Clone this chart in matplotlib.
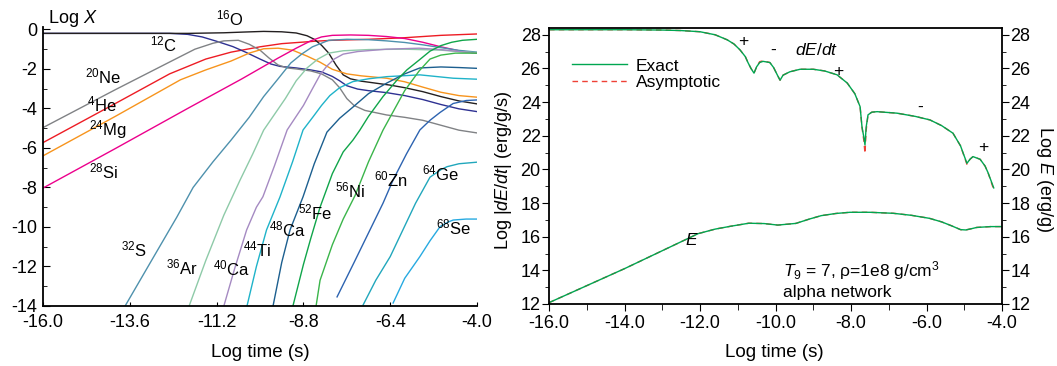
import matplotlib
matplotlib.use('Agg')
from matplotlib import pyplot as plt
from matplotlib.ticker import MultipleLocator, FixedLocator, FormatStrFormatter

plt.rcParams['font.family'] = ['Liberation Sans', 'DejaVu Sans']
plt.rcParams['mathtext.fontset'] = 'custom'
plt.rcParams['mathtext.rm'] = 'Liberation Sans'
plt.rcParams['mathtext.it'] = 'Liberation Sans:italic'
plt.rcParams['axes.unicode_minus'] = False

# ---- left panel: log mass fractions vs log time ----
left_xticks = [-16.0, -13.6, -11.2, -8.8, -6.4, -4.0]

he4_t = [-16, -14, -12.5, -11.5, -10.8, -10, -9.4, -8.5, -8, -7, -6, -5, -4]
he4_x = [-5.73, -3.75, -2.25, -1.5, -1.15, -0.88, -0.72, -0.6, -0.55, -0.5, -0.42, -0.3, -0.23]

c12_t = [-16, -12.5, -12, -11.6, -11.2, -10.75, -10.4, -10.0, -9.7, -9.45, -9.0, -8.6, -8.3, -8.0,
         -7.8, -7.6, -7.3, -7.0, -6.5, -6.0, -5.5, -5.0, -4.5, -4.0]
c12_x = [-0.2, -0.2, -0.25, -0.38, -0.6, -0.87, -1.15, -1.5, -1.75, -1.87, -1.95, -2.05, -2.15, -2.38,
         -2.6, -2.85, -3.02, -3.1, -3.2, -3.35, -3.55, -3.8, -4.02, -4.16]

o16_t = [-16, -12, -11, -10.4, -9.9, -9.4, -9.0, -8.7, -8.5, -8.3, -8.1, -7.9, -7.7, -7.5, -7.2,
         -6.8, -6.4, -6.0, -5.5, -5.0, -4.5, -4.0]
o16_x = [-0.2, -0.2, -0.17, -0.13, -0.1, -0.12, -0.18, -0.32, -0.5, -0.8, -1.2, -1.8, -2.3, -2.5, -2.62,
         -2.72, -2.82, -2.95, -3.15, -3.4, -3.62, -3.77]

ne20_t = [-16, -14, -12.5, -11.8, -11.3, -11.0, -10.6, -10.3, -10.0, -9.75, -9.5, -9.25, -9.0, -8.6,
          -8.3, -8.0, -7.8, -7.6, -7.4, -7.1, -6.5, -6.0, -5.5, -5.0, -4.5, -4.0]
ne20_x = [-4.97, -3.05, -1.65, -1.0, -0.7, -0.58, -0.55, -0.75, -1.05, -1.45, -1.8, -1.95, -2.0, -2.1,
          -2.25, -2.55, -2.95, -3.5, -3.85, -4.1, -4.33, -4.45, -4.6, -4.85, -5.1, -5.24]

mg24_t = [-16, -14, -12.2, -11.5, -10.8, -10.3, -9.9, -9.5, -9.1, -8.7, -8.35, -8.0, -7.6, -7.2,
          -6.5, -6.0, -5.5, -5.0, -4.5, -4.0]
mg24_x = [-6.4, -4.4, -2.55, -2.05, -1.6, -1.2, -0.98, -0.95, -1.05, -1.35, -1.65, -2.02, -2.25, -2.35,
          -2.47, -2.65, -2.92, -3.18, -3.35, -3.43]

si28_t = [-16, -14, -12, -10.5, -9.5, -9.0, -8.6, -8.3, -8.0, -7.5, -7.0, -6.5, -6.0, -5.5, -5.0, -4.5, -4.0]
si28_x = [-8.03, -6.03, -4.0, -2.5, -1.45, -0.95, -0.58, -0.38, -0.3, -0.28, -0.3, -0.36, -0.46, -0.65,
          -0.88, -1.08, -1.21]

s32_t = [-13.73, -13.0, -12.3, -11.85, -11.3, -10.8, -10.3, -9.9, -9.5, -9.15, -8.85, -8.55, -8.1,
         -7.6, -7.0, -6.5, -6.0, -5.5, -5.0, -4.5, -4.0]
s32_x = [-14, -11.7, -9.5, -8.0, -6.7, -5.6, -4.45, -3.4, -2.5, -1.7, -1.25, -0.88, -0.55,
         -0.5, -0.52, -0.58, -0.66, -0.78, -0.92, -1.06, -1.15]

ar36_t = [-11.96, -11.5, -11.0, -10.55, -10.2, -9.9, -9.6, -9.3, -9.0, -8.7, -8.4, -8.1, -7.7, -7.0,
          -6.0, -5.0, -4.5, -4.0]
ar36_x = [-14, -11.7, -9.4, -7.62, -6.3, -5.1, -4.3, -3.5, -2.6, -1.95, -1.5, -1.2, -1.08, -1.02,
          -1.0, -1.05, -1.12, -1.18]

ca40_t = [-11.0, -10.7, -10.37, -10.1, -9.92, -9.6, -9.25, -9.0, -8.8, -8.55, -8.34, -8.15, -7.95,
          -7.7, -7.3, -6.5, -5.6, -5.0, -4.5, -4.0]
ca40_x = [-14, -12.1, -10.15, -9.0, -8.47, -6.9, -5.09, -4.4, -3.85, -3.0, -2.3, -1.85, -1.5,
          -1.25, -1.12, -1.0, -0.95, -1.02, -1.12, -1.2]

ti44_t = [-10.36, -10.1, -9.82, -9.45, -9.1, -8.81, -8.54, -8.3, -8.07, -7.8, -7.43, -7.0, -6.49,
          -5.58, -4.66, -4.0]
ti44_x = [-14, -12.0, -10.15, -8.49, -6.7, -5.09, -4.44, -3.85, -3.35, -2.95, -2.64, -2.5, -2.39,
          -2.3, -2.47, -2.52]

cr48_t = [-9.64, -9.4, -9.17, -8.81, -8.5, -8.15, -7.8, -7.43, -7.0, -6.49, -6.0, -5.58, -5.0, -4.5, -4.0]
cr48_x = [-14, -11.8, -10.15, -8.47, -6.8, -5.2, -4.5, -3.93, -3.25, -2.71, -2.25, -1.95, -1.9, -1.93, -1.97]

fe52_t = [-9.09, -8.8, -8.6, -8.34, -8.0, -7.7, -7.43, -7.24, -7.0, -6.6, -6.21, -5.94, -5.6, -5.3,
          -5.0, -4.7, -4.4, -4.0]
fe52_x = [-14, -11.9, -10.6, -9.0, -7.3, -6.2, -5.6, -5.1, -4.4, -3.4, -2.56, -2.05, -1.55, -1.1,
          -0.82, -0.65, -0.55, -0.5]

ni56_t = [-8.45, -8.34, -8.0, -7.7, -7.37, -7.0, -6.6, -6.3, -6.0, -5.6, -5.3, -5.0, -4.6, -4.0]
ni56_x = [-14, -12.7, -10.9, -9.6, -8.4, -6.7, -5.1, -4.1, -3.1, -2.1, -1.5, -1.3, -1.2, -1.2]

zn60_t = [-7.87, -7.4, -6.96, -6.6, -6.32, -5.95, -5.58, -5.3, -5.02, -4.66, -4.3, -4.0]
zn60_x = [-13.54, -11.8, -10.15, -8.8, -7.62, -6.3, -5.09, -4.6, -4.2, -3.75, -3.6, -3.57]

ge64_t = [-7.15, -6.8, -6.4, -6.05, -5.7, -5.3, -5.0, -4.83, -4.5, -4.0]
ge64_x = [-13.95, -12.7, -11.5, -10.15, -8.8, -7.48, -7.1, -6.95, -6.8, -6.72]

se68_t = [-6.32, -6.0, -5.58, -5.3, -5.02, -4.8, -4.66, -4.3, -4.0]
se68_x = [-13.85, -12.6, -11.5, -10.7, -9.98, -9.75, -9.65, -9.6, -9.6]

# label text, position (log t, log X)
iso_labels = ['$^{16}$O', '$^{12}$C', '$^{20}$Ne', '$^{4}$He', '$^{24}$Mg', '$^{28}$Si', '$^{32}$S',
              '$^{36}$Ar', '$^{40}$Ca', '$^{44}$Ti', '$^{48}$Ca', '$^{52}$Fe', '$^{56}$Ni',
              '$^{60}$Zn', '$^{64}$Ge', '$^{68}$Se']
iso_label_t = [-10.83, -12.68, -14.34, -14.37, -14.2, -14.31, -13.48, -12.16, -10.8, -10.08,
               -9.25, -8.48, -7.51, -6.38, -5.02, -4.64]
iso_label_x = [0.58, -0.78, -2.4, -3.82, -5.09, -7.2, -11.16, -12.03, -12.08, -11.16,
               -10.15, -9.29, -8.13, -7.62, -7.27, -10.0]

# ---- right panel: energy release ----
dedt_t = [-16, -14, -13, -12.5, -12.0, -11.6, -11.28, -11.1, -10.94, -10.8, -10.73, -10.65, -10.57,
          -10.5, -10.42, -10.33, -10.15, -10.05, -9.95, -9.88, -9.8, -9.62, -9.35, -9.0, -8.7,
          -8.37, -8.1, -7.9, -7.76, -7.71, -7.66, -7.63, -7.6, -7.55, -7.45, -7.31, -6.78, -6.3,
          -5.91, -5.6, -5.3, -5.1, -4.93, -4.85, -4.77, -4.58, -4.45, -4.37, -4.22]
dedt_exact = [28.3, 28.3, 28.28, 28.25, 28.18, 28.0, 27.7, 27.45, 27.1, 26.7, 26.35, 26.0, 25.72,
              26.1, 26.35, 26.42, 26.35, 26.05, 25.6, 25.3, 25.6, 25.8, 25.95, 25.95, 25.85,
              25.62, 25.13, 24.5, 23.73, 22.54, 21.9, 21.45, 22.5, 23.24, 23.4, 23.43, 23.34, 23.15,
              22.94, 22.6, 22.15, 21.4, 20.36, 20.6, 20.76, 20.6, 20.2, 19.8, 18.9]
dedt_asym = [28.3, 28.3, 28.28, 28.25, 28.18, 28.0, 27.7, 27.45, 27.1, 26.7, 26.35, 26.0, 25.72,
             26.1, 26.4, 26.45, 26.35, 26.05, 25.6, 25.3, 25.6, 25.8, 25.95, 25.95, 25.85,
             25.62, 25.13, 24.5, 23.73, 22.5, 21.7, 20.95, 22.3, 23.24, 23.4, 23.43, 23.34, 23.15,
             22.94, 22.6, 22.15, 21.4, 20.3, 20.6, 20.76, 20.6, 20.2, 19.8, 18.8]

e_t = [-16, -14, -12.05, -11.6, -11.19, -10.71, -10.3, -9.94, -9.46, -9.1, -8.79, -8.4, -8.03, -7.5,
       -6.88, -6.4, -5.92, -5.6, -5.34, -5.1, -4.96, -4.8, -4.67, -4.3, -4.0]
e_val = [12.08, 14.1, 16.18, 16.45, 16.62, 16.8, 16.78, 16.69, 16.79, 17.05, 17.25, 17.38, 17.45, 17.45,
         17.39, 17.27, 17.09, 16.88, 16.65, 16.42, 16.4, 16.48, 16.55, 16.6, 16.6]

fig = plt.figure(figsize=(10.57, 3.66), dpi=100)

ax = fig.add_axes([0.0407, 0.164, 0.4106, 0.761])
curves = [
    (he4_t, he4_x, '#ed1c24'), (c12_t, c12_x, '#2e3192'), (o16_t, o16_x, '#231f20'),
    (ne20_t, ne20_x, '#808285'), (mg24_t, mg24_x, '#f7941d'), (si28_t, si28_x, '#ec008c'),
    (s32_t, s32_x, '#4e91ad'), (ar36_t, ar36_x, '#8ecaa8'), (ca40_t, ca40_x, '#a58ac2'),
    (ti44_t, ti44_x, '#1fb3c9'), (cr48_t, cr48_x, '#1c5f8f'), (fe52_t, fe52_x, '#10a54a'),
    (ni56_t, ni56_x, '#3ab54a'), (zn60_t, zn60_x, '#2d63b0'), (ge64_t, ge64_x, '#21a7bc'),
    (se68_t, se68_x, '#27aae1'),
]
for t, x, c in curves:
    ax.plot(t, x, color=c, lw=1.0)
for lab, t, x in zip(iso_labels, iso_label_t, iso_label_x):
    ax.text(t, x, lab, fontsize=12, ha='center', va='center')

ax.set_xlim(-16, -4)
ax.set_ylim(-14, 0.1)
ax.spines['top'].set_visible(False)
ax.spines['right'].set_visible(False)
ax.spines['left'].set_linewidth(1.3)
ax.spines['bottom'].set_linewidth(1.3)
ax.xaxis.set_major_locator(FixedLocator(left_xticks))
ax.xaxis.set_major_formatter(FormatStrFormatter('%.1f'))
ax.yaxis.set_major_locator(MultipleLocator(2))
ax.yaxis.set_minor_locator(MultipleLocator(1))
ax.tick_params(axis='both', which='both', direction='in', labelsize=13)
ax.tick_params(axis='x', which='major', length=3, pad=6)
ax.tick_params(axis='y', which='major', length=5, pad=4)
ax.tick_params(axis='y', which='minor', length=3)
ax.text(-15.85, 0.55, 'Log $X$', fontsize=13, ha='left', va='center')
fig.text(0.246, 0.038, 'Log time (s)', fontsize=13.5, ha='center', va='center')

ax2 = fig.add_axes([0.5194, 0.1694, 0.4286, 0.754])
ax2.plot(dedt_t, dedt_asym, color='#ef4136', lw=1.0, ls=(0, (4, 3)), label='Asymptotic')
ax2.plot(dedt_t, dedt_exact, color='#00a651', lw=1.0, label='Exact')
ax2.plot(e_t, e_val, color='#ef4136', lw=1.0, ls=(0, (4, 3)))
ax2.plot(e_t, e_val, color='#00a651', lw=1.0)

h, l = ax2.get_legend_handles_labels()
ax2.legend(h[::-1], l[::-1], loc='upper left', bbox_to_anchor=(0.05, 0.89), frameon=False,
           fontsize=12.5, handlelength=3.2, handletextpad=0.5, labelspacing=0.1,
           borderpad=0, borderaxespad=0)

ax2.text(-8.9, 27.1, '$dE/dt$', fontsize=12.5, ha='center', va='center')
ax2.text(-12.21, 15.8, '$E$', fontsize=12.5, ha='center', va='center')
for t, v, s in [(-10.86, 27.58, '+'), (-10.07, 27.1, '-'), (-8.34, 25.8, '+'),
                (-6.17, 23.66, '-'), (-4.5, 21.3, '+')]:
    ax2.text(t, v, s, fontsize=12.5, ha='center', va='center')
ax2.text(-9.8, 14.0, '$T_9$ = 7, ρ=1e8 g/cm$^3$', fontsize=12.5, ha='left', va='center')
ax2.text(-9.8, 12.7, 'alpha network', fontsize=12.5, ha='left', va='center')

ax2.set_xlim(-16, -4)
ax2.set_ylim(12, 28.4)
for s in ax2.spines.values():
    s.set_linewidth(1.3)
ax2.xaxis.set_major_locator(MultipleLocator(2))
ax2.xaxis.set_minor_locator(MultipleLocator(1))
ax2.xaxis.set_major_formatter(FormatStrFormatter('%.1f'))
ax2.yaxis.set_major_locator(MultipleLocator(2))
ax2.yaxis.set_minor_locator(MultipleLocator(1))
ax2.yaxis.set_ticks_position('both')
ax2.tick_params(axis='both', which='both', direction='out', labelsize=13)
ax2.tick_params(axis='y', which='major', length=5, pad=1, labelright=True)
ax2.tick_params(axis='y', which='minor', length=3)
ax2.tick_params(axis='x', which='major', length=5, pad=3)
ax2.tick_params(axis='x', which='minor', length=4)
fig.text(0.733, 0.038, 'Log time (s)', fontsize=13.5, ha='center', va='center')
fig.text(0.476, 0.535, 'Log |$dE/dt$| (erg/g/s)', fontsize=13, rotation=90, ha='center', va='center')
fig.text(0.988, 0.51, 'Log $E$ (erg/g)', fontsize=13, rotation=270, ha='center', va='center')

fig.savefig('out.png', dpi=100)
plt.close(fig)
